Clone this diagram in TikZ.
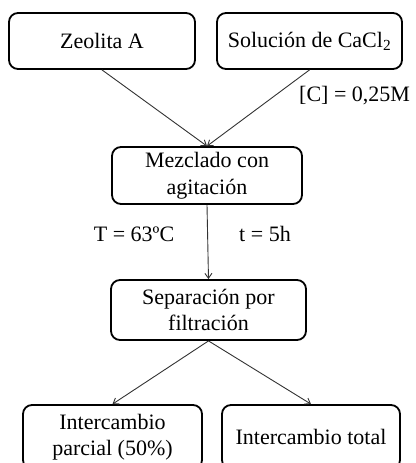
\documentclass[tikz,border=0pt]{standalone}
\usepackage{fontspec}
\setmainfont{Liberation Serif}
\usetikzlibrary{arrows.meta}

\tikzset{
  stage/.style={draw,line width=1.8pt,rounded corners=9pt,align=center,
    inner sep=2pt,font=\fontsize{22}{26.5}\selectfont},
  flow/.style={draw=black!80,line width=0.9pt,-{Straight Barb[length=5pt,width=7pt]}},
  cond/.style={font=\fontsize{22}{26.5}\selectfont,inner sep=0pt}
}

\begin{document}
\begin{tikzpicture}[x=1pt,y=-1pt]
\useasboundingbox (0,0) rectangle (415,463);
\clip (0,0) rectangle (415,463);
% starting materials
\node[stage,minimum width=186pt,minimum height=56pt] (zeo) at (102,41) {Zeolita A};
\node[stage,minimum width=185pt,minimum height=56pt] (sol) at (309.5,41) {Soluci\'on de CaCl\textsubscript{2}};
% mixing step
\node[stage,minimum width=190pt,minimum height=57pt] (mez) at (207,175.5) {Mezclado con\\agitaci\'on};
% filtration step
\node[stage,minimum width=195pt,minimum height=60pt] (sep) at (208.5,310) {Separaci\'on por\\filtraci\'on};
% products
\node[stage,minimum width=179pt,minimum height=64pt] (parc) at (112.5,437) {Intercambio\\parcial (50\%)};
\node[stage,minimum width=178pt,minimum height=64pt] (tot) at (311,437) {Intercambio total};
% arrows
\draw[flow] (zeo.south) -- (mez.north);
\draw[flow] (sol.south) -- (mez.north);
\draw[flow] (mez.south) -- (sep.north);
\draw[flow] (sep.south) -- (parc.north);
\draw[flow] (sep.south) -- (tot.north);
% conditions
\node[cond,anchor=west] (conc) at (299,96) {[C] = 0,25M};
\node[cond] (temp) at (134,234) {T = 63ºC};
\node[cond] (tiem) at (265,234) {t = 5h};
\end{tikzpicture}
\end{document}
